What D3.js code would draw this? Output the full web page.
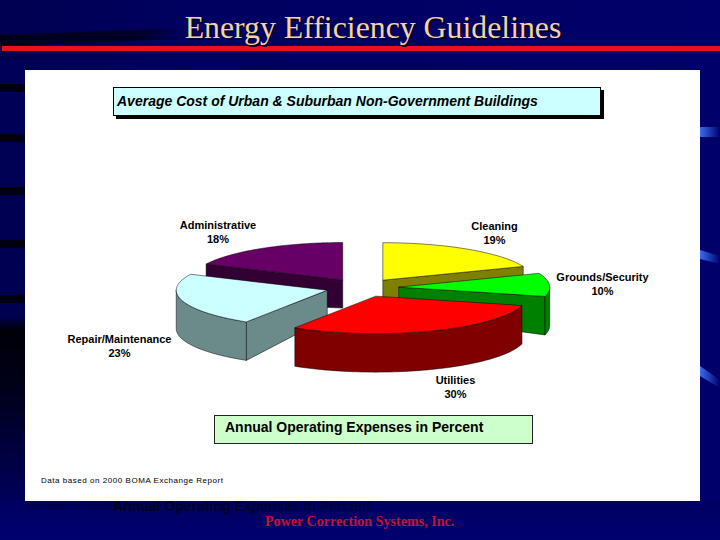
<!DOCTYPE html>
<html><head><meta charset="utf-8">
<script src="https://cdn.jsdelivr.net/npm/d3@7"></script>
<style>html,body{margin:0;padding:0;background:#000060}svg{display:block}text{font-family:"Liberation Sans",Arial,sans-serif}</style>
</head><body><svg id="c" width="720" height="540"></svg>
<script>
const categories = ["Cleaning","Grounds/Security","Utilities","Repair/Maintenance","Administrative"];
const values = [19,10,30,23,18];
const topColors = ["#ffff00","#00ff00","#ff0000","#ccffff","#660066"];
const sideColors = ["#808000","#008000","#800000","#6b8a8a","#330033"];
const drawOrder = [4,0,1,3,2];
const labelAnchors = [[494.5,230],[602.5,281],[455.5,384],[119.5,343],[218,229]];
const pageTitle = "Energy Efficiency Guidelines";
const chartTitle = "Average Cost of Urban & Suburban Non-Government Buildings";
const axisTitle = "Annual Operating Expenses in Percent";
const footnote = "Data based on 2000 BOMA Exchange Report";
const company = "Power Correction Systems, Inc.";

const svg = d3.select("#c");
const defs = svg.append("defs");
function grad(id,x2,y2,stops){
  const g=defs.append("linearGradient").attr("id",id).attr("x1",0).attr("y1",0).attr("x2",x2).attr("y2",y2);
  stops.forEach(s=>g.append("stop").attr("offset",s[0]).attr("stop-color",s[1]));
}
grad("bgTop",1,0,[[0,"#000050"],[0.25,"#000060"],[1,"#00006a"]]);
grad("bgLeft",0,1,[[0,"#000058"],[0.57,"#000050"],[0.6,"#000008"],[0.72,"#000018"],[1,"#000060"]]);
grad("bgBottom",0,1,[[0,"#000060"],[1,"#000070"]]);
grad("blip",1,0,[[0,"#3a6cf0"],[1,"#00006a"]]);
grad("band",1,0,[[0,"#00001c"],[0.75,"#000028"],[1,"#000060"]]);
grad("ghost",1,0,[[0,"#000018"],[0.45,"#000028"],[1,"#000040"]]);

// page background
svg.append("rect").attr("width",720).attr("height",540).attr("fill","#00006a");
svg.append("rect").attr("width",720).attr("height",70).attr("fill","url(#bgTop)");
svg.append("rect").attr("y",60).attr("width",25).attr("height",450).attr("fill","url(#bgLeft)");
svg.append("rect").attr("y",501).attr("width",720).attr("height",39).attr("fill","url(#bgBottom)");
svg.append("path").attr("d","M0,35 L185,28 L185,39 L0,46Z").attr("fill","url(#band)");
[84,134,187,240,295].forEach(y=>svg.append("rect").attr("y",y).attr("width",25).attr("height",8).attr("fill","#000010"));
svg.append("path").attr("d","M700,127 L720,127 L720,137 L700,137Z").attr("fill","url(#blip)");
svg.append("path").attr("d","M700,250 L720,256 L720,264 L700,259Z").attr("fill","url(#blip)");
svg.append("path").attr("d","M700,366 L720,380 L720,388 L700,376Z").attr("fill","url(#blip)");
svg.append("rect").attr("x",2).attr("y",46).attr("width",718).attr("height",5).attr("fill","#ea1021");

// title
const titleFont = t=>t.attr("text-anchor","middle").style("font-family","'Liberation Serif',serif").style("font-size","31.8px").text(pageTitle);
titleFont(svg.append("text").attr("x",374.5).attr("y",39.5).attr("fill","#000020"));
titleFont(svg.append("text").attr("x",373).attr("y",38).attr("fill","#f3d3a3"));

// ghost text and footer below the panel
svg.append("text").attr("x",28).attr("y",508).attr("fill","#000038").style("font-size","8px").text(footnote.slice(0,22));
svg.append("text").attr("x",113).attr("y",511).attr("fill","url(#ghost)").style("font-size","14px").style("font-weight","bold").text(axisTitle);
svg.append("text").attr("x",265).attr("y",526).attr("fill","#c8102e").style("font-family","'Liberation Serif',serif").style("font-size","14.1px").style("font-weight","bold").text(company);

// white panel
svg.append("rect").attr("x",25).attr("y",70).attr("width",675).attr("height",431).attr("fill","#ffffff");

// chart title box
svg.append("rect").attr("x",116).attr("y",90).attr("width",488).attr("height",29).attr("fill","#000000");
svg.append("rect").attr("x",113.5).attr("y",87.5).attr("width",487).attr("height",28).attr("fill","#ccffff").attr("stroke","#000").attr("stroke-width",1);
svg.append("text").attr("x",117).attr("y",105.5).attr("fill","#000").style("font-size","14px").style("font-weight","bold").style("font-style","italic").text(chartTitle);

// pie geometry
const cx=362.3, cy=287.7, rx=151, ry=37.5, explode=36.5/151, rimDepth=38.5, hubDepth=28;
const sx=d3.scaleLinear().domain([-1,1]).range([cx-rx,cx+rx]);
const sy=d3.scaleLinear().domain([-1,1]).range([cy-ry,cy+ry]);
const arcs=d3.pie().sort(null).value(d=>d)(values);
const line=d3.line();
const P=(a,r,ox,oy,dy)=>[sx(ox+r*Math.sin(a)),sy(oy-r*Math.cos(a))+dy];
function rimPts(a0,a1,ox,oy,dy){return d3.range(0,61).map(i=>P(a0+(a1-a0)*i/60,1,ox,oy,dy));}
const g=svg.append("g");
drawOrder.forEach(i=>{
  const a=arcs[i], m=(a.startAngle+a.endAngle)/2;
  const ox=explode*Math.sin(m), oy=-explode*Math.cos(m);
  const hub=P(0,0,ox,oy,0), hubB=[hub[0],hub[1]+hubDepth];
  const sl=g.append("g");
  const style=(p,c)=>p.attr("fill",c).attr("stroke","#000").attr("stroke-width",0.5).attr("stroke-linejoin","round");
  // radial walls that face the viewer
  const walls=[];
  if(Math.sin(a.startAngle)<-0.001) walls.push(a.startAngle);
  if(Math.sin(a.endAngle)>0.001) walls.push(a.endAngle);
  walls.forEach(t=>{
    const r=P(t,1,ox,oy,0), rb=P(t,1,ox,oy,rimDepth);
    style(sl.append("path").attr("d",line([hub,r,rb,hubB])+"Z"),sideColors[i]);
  });
  // outer wall, front half of the ellipse only
  const f0=Math.max(a.startAngle,Math.PI/2), f1=Math.min(a.endAngle,3*Math.PI/2);
  if(f1>f0){
    style(sl.append("path").attr("d",line(rimPts(f0,f1,ox,oy,0).concat(rimPts(f1,f0,ox,oy,rimDepth)))+"Z"),sideColors[i]);
  }
  // top
  style(sl.append("path").attr("d",line([hub].concat(rimPts(a.startAngle,a.endAngle,ox,oy,0)))+"Z"),topColors[i]);
});

// labels
const lab=svg.append("g").attr("text-anchor","middle").attr("fill","#000").style("font-size","11px").style("font-weight","bold");
categories.forEach((c,i)=>{
  lab.append("text").attr("x",labelAnchors[i][0]).attr("y",labelAnchors[i][1]).text(c);
  lab.append("text").attr("x",labelAnchors[i][0]).attr("y",labelAnchors[i][1]+14).text(values[i]+"%");
});

// axis title box
svg.append("rect").attr("x",214.5).attr("y",415.5).attr("width",318).attr("height",28).attr("fill","#ccffcc").attr("stroke","#222").attr("stroke-width",1);
svg.append("text").attr("x",225).attr("y",432).attr("fill","#000").style("font-size","14px").style("font-weight","bold").text(axisTitle);

// footnote
svg.append("text").attr("x",41).attr("y",483).attr("fill","#000").style("font-size","8px").style("letter-spacing","0.54px").text(footnote);
</script></body></html>
